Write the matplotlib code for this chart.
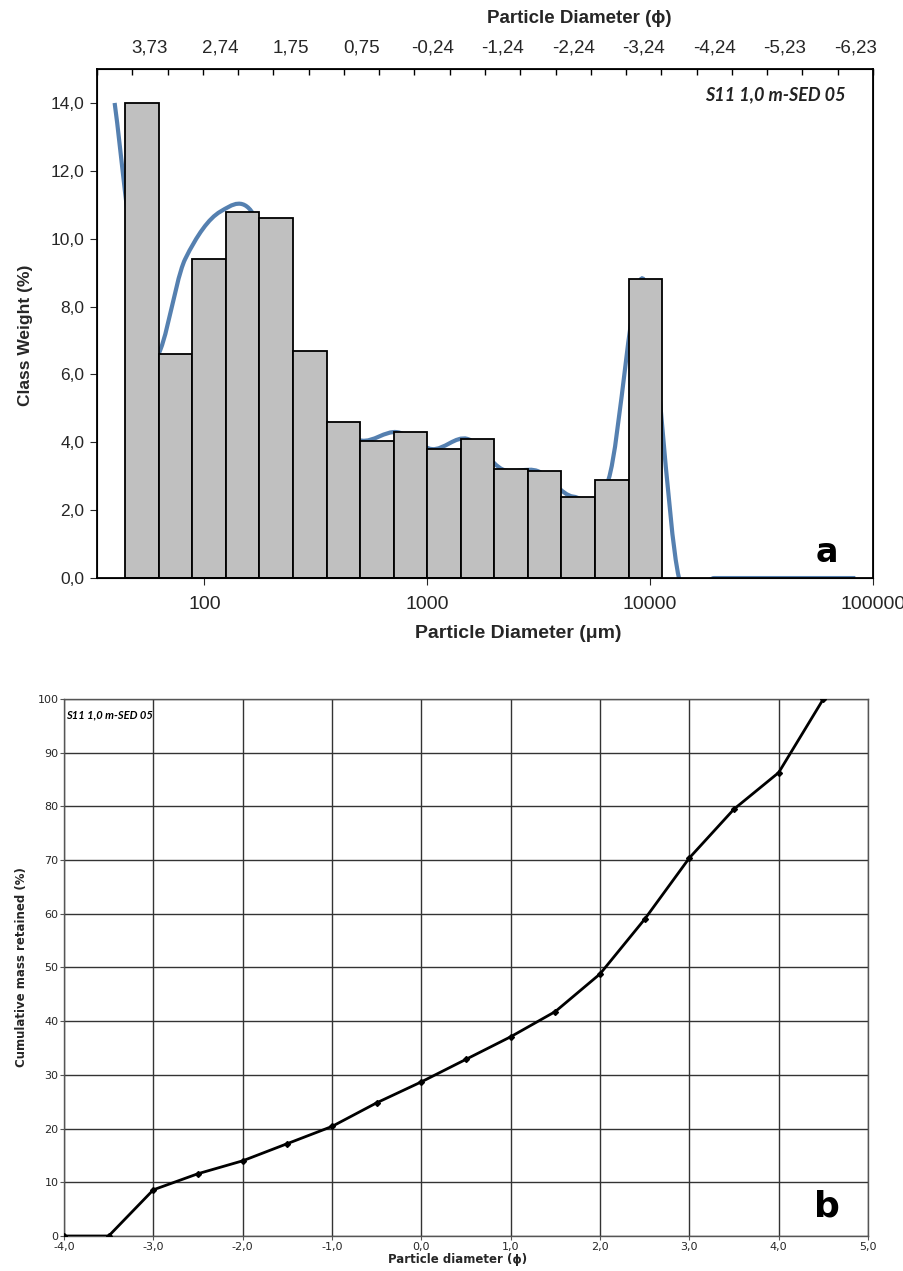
import numpy as np
import matplotlib.pyplot as plt
import matplotlib.transforms as mtransforms
from matplotlib.path import Path
from matplotlib.patches import PathPatch
from matplotlib.ticker import FixedLocator, FuncFormatter, NullFormatter

# sieve class limits in phi (half-phi classes, coarse end on the right)
phi_edges = [4.5, 4.0, 3.5, 3.0, 2.5, 2.0, 1.5, 1.0, 0.5, 0.0,
             -0.5, -1.0, -1.5, -2.0, -2.5, -3.0, -3.5]
class_weight = [14.0, 6.6, 9.4, 10.8, 10.6, 6.7, 4.6, 4.05, 4.3, 3.8,
                4.1, 3.2, 3.15, 2.4, 2.9, 8.8]

# frequency curve, one value per class of the upper phi axis
curve_weight = [14.0, 6.6, 9.4, 10.8, 10.6, 6.7, 4.6, 4.05, 4.3, 3.8, 4.1,
                3.2, 3.15, 2.4, 2.9, 8.8, 0.0, 0.0, 0.0, 0.0, 0.0, 0.0]
phi_labels = ['3,73', '2,74', '1,75', '0,75', '-0,24', '-1,24', '-2,24',
              '-3,24', '-4,24', '-5,23', '-6,23']

# cumulative curve
cum_phi = [-4.0, -3.5, -3.0, -2.5, -2.0, -1.5, -1.0, -0.5, 0.0,
           0.5, 1.0, 1.5, 2.0, 2.5, 3.0, 3.5, 4.0, 4.5]
cum_mass = [0.0, 0.0, 8.6, 11.6, 14.0, 17.2, 20.4, 24.8, 28.7,
            32.9, 37.1, 41.8, 48.8, 59.0, 70.4, 79.5, 86.3, 100.0]

sample = 'S11 1,0 m-SED 05'
txt = '#262626'
narrow = ['Liberation Sans Narrow', 'DejaVu Sans']


def comma(fmt):
    return FuncFormatter(lambda v, p: (fmt % v).replace('.', ','))


def smooth_path(xs, ys):
    # cubic bezier through the points, spreadsheet-style smoothing
    pts = np.column_stack([xs, ys]).astype(float)
    pad = np.vstack([pts[0], pts, pts[-1]])
    verts = [pts[0]]
    codes = [Path.MOVETO]
    for i in range(len(pts) - 1):
        p0, p1, p2, p3 = pad[i], pad[i + 1], pad[i + 2], pad[i + 3]
        verts += [p1 + (p2 - p0) / 6, p2 - (p3 - p1) / 6, p2]
        codes += [Path.CURVE4] * 3
    return Path(verts, codes)


plt.rcParams['font.family'] = ['Liberation Sans', 'DejaVu Sans']
fig = plt.figure(figsize=(9.04, 12.71), dpi=100)

# ---- a: class weight histogram ----
ax = fig.add_axes([0.1073, 0.5452, 0.8584, 0.4005])
edges_um = 1000.0 * 2.0 ** (-np.array(phi_edges))
left = edges_um[:-1]
width = edges_um[1:] - edges_um[:-1]
ax.bar(left, class_weight, width=width, align='edge', color='#c0c0c0',
       edgecolor='black', linewidth=1.3, zorder=2)
ax.set_xscale('log')
ax.set_xlim(33, 100000)
ax.set_ylim(0, 15)
ax.xaxis.set_major_locator(FixedLocator([100, 1000, 10000, 100000]))
ax.xaxis.set_major_formatter(FuncFormatter(lambda v, p: '%d' % v))
ax.xaxis.set_minor_formatter(NullFormatter())
ax.tick_params(axis='x', which='minor', length=0)
ax.set_yticks(np.arange(0, 15, 2))
ax.yaxis.set_major_formatter(comma('%.1f'))
ax.tick_params(axis='x', which='major', direction='out', length=5,
               labelsize=14, colors=txt, pad=8)
ax.tick_params(axis='y', direction='out', length=5, labelsize=12.5,
               colors=txt, pad=4)
for s in ax.spines.values():
    s.set_linewidth(1.3)
ax.set_xlabel('Particle Diameter (μm)', fontsize=14, fontweight='bold',
              color=txt)
ax.xaxis.set_label_coords(0.543, -0.093)
ax.set_ylabel('Class Weight (%)', fontsize=12.5, fontweight='bold',
              color=txt)
ax.yaxis.set_label_coords(-0.083, 0.477)

ax_top = ax.twiny()
ax_top.set_xlim(0, len(curve_weight))
ax_top.set_xticks(np.arange(len(curve_weight) + 1))
ax_top.set_xticklabels([])
ax_top.xaxis.set_minor_locator(FixedLocator(np.arange(1.5, len(curve_weight), 2)))
ax_top.set_xticklabels(phi_labels, minor=True)
ax_top.tick_params(axis='x', which='major', direction='in', length=4, width=1)
ax_top.tick_params(axis='x', which='minor', length=0, labelsize=13.5,
                   colors=txt, pad=9)
ax_top.set_xlabel('Particle Diameter (ϕ)', fontsize=13.5, fontweight='bold',
                  color=txt, labelpad=8)
ax_top.xaxis.set_label_coords(0.621, 1.09)

# curve on the class axis, drawn behind the bars
blend = mtransforms.blended_transform_factory(ax_top.transData, ax.transData)
cx = np.arange(len(curve_weight)) + 0.5
curve = PathPatch(smooth_path(cx, curve_weight), fill=False,
                  edgecolor='#5580b0', linewidth=3.0, transform=blend,
                  zorder=1)
ax.add_patch(curve)

ax.text(0.965, 0.95, sample, transform=ax.transAxes, ha='right', va='center',
        fontsize=13, fontweight='bold', style='italic', family='Lato',
        color='#222222')
ax.text(0.955, 0.05, 'a', transform=ax.transAxes, ha='right', va='center',
        fontsize=24, fontweight='bold', family='DejaVu Sans')

# ---- b: cumulative curve ----
bx = fig.add_axes([0.0708, 0.02754, 0.8894, 0.4225])
bx.plot(cum_phi, cum_mass, color='black', linewidth=2.0, marker='D',
        markersize=3, zorder=3)
bx.set_xlim(-4, 5)
bx.set_ylim(0, 100)
bx.set_xticks(np.arange(-4, 6, 1))
bx.set_yticks(np.arange(0, 101, 10))
bx.xaxis.set_major_formatter(comma('%.1f'))
bx.grid(True, color='#333333', linewidth=1.0)
bx.set_axisbelow(True)
for s in bx.spines.values():
    s.set_color('#555555')
    s.set_linewidth(1.0)
bx.tick_params(direction='out', length=3, colors='#555555', labelcolor=txt,
               labelsize=8, pad=1)
for lab in bx.get_xticklabels() + bx.get_yticklabels():
    lab.set_family(narrow)
bx.set_xlabel('Particle diameter (ϕ)', fontsize=8.5, fontweight='bold',
              family=narrow, color=txt)
bx.xaxis.set_label_coords(0.49, -0.032)
bx.set_ylabel('Cumulative mass retained (%)', fontsize=8.5, fontweight='bold',
              family=narrow, color=txt)
bx.yaxis.set_label_coords(-0.045, 0.5)
bx.text(0.002, 0.97, sample, transform=bx.transAxes, ha='left', va='center',
        fontsize=8, fontweight='bold', style='italic', family='Lato')
bx.text(0.965, 0.055, 'b', transform=bx.transAxes, ha='right', va='center',
        fontsize=26, fontweight='bold', family=narrow)

fig.savefig('out.png', dpi=100)
